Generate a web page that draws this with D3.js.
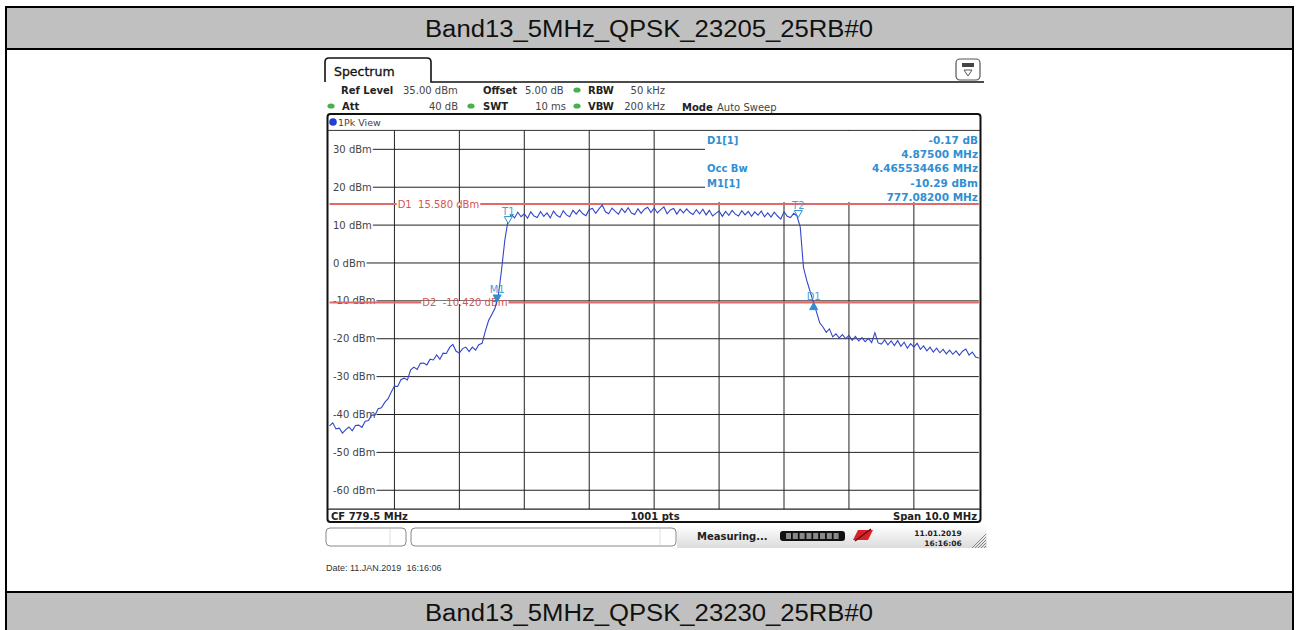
<!DOCTYPE html>
<html>
<head>
<meta charset="utf-8">
<script src="https://cdn.jsdelivr.net/npm/d3@7"></script>
<style>
body { margin: 0; background: #fff; }
text { font-family: "DejaVu Sans", Verdana, sans-serif; }
</style>
</head>
<body>
<svg id="chart" width="1299" height="630"></svg>
<script>

var titleTop = "Band13_5MHz_QPSK_23205_25RB#0",
    titleBottom = "Band13_5MHz_QPSK_23230_25RB#0";

var refLevel = 35,
    bottomLevel = -65;

var startFreq = 774.5,
    stopFreq = 784.5,
    stepFreq = 0.05;

var yTicks = [30, 20, 10, 0, -10, -20, -30, -40, -50, -60];
var xGrid = [775.5, 776.5, 777.5, 778.5, 779.5, 780.5, 781.5, 782.5, 783.5];

// trace, one value every 50 kHz
var traceLevels = [
  -43.0, -42.2, -43.8, -43.6, -44.9, -44.0, -43.3, -44.3, -42.9, -42.8,
  -43.4, -41.8, -41.6, -40.1, -40.2, -38.5, -38.2, -36.8, -35.9, -34.1,
  -32.5, -32.6, -30.8, -30.4, -30.9, -28.2, -27.5, -28.1, -26.5, -26.4,
  -26.9, -25.4, -25.6, -24.3, -25.4, -23.8, -23.9, -22.3, -21.5, -23.3,
  -23.8, -22.6, -22.2, -23.4, -22.2, -23.0, -21.6, -21.2, -18.0, -15.2,
  -13.6, -11.9, -8.6, -1.8, 6.0, 11.3,
  12.8, 11.9, 13.4, 12.2, 13.0, 11.8, 13.5, 12.4, 12.0, 13.6,
  12.3, 13.2, 11.9, 13.7, 12.6, 12.1, 13.8, 12.7, 12.2, 13.9,
  12.9, 14.0, 13.0, 12.5, 14.1, 14.4, 13.1, 14.3, 15.3, 13.5,
  13.0, 14.5, 13.6, 12.9, 14.4, 13.3, 14.6, 13.2, 12.8, 14.3,
  13.1, 14.2, 14.7, 13.3, 14.5, 13.2, 14.1, 14.8, 13.0, 14.0,
  14.4, 12.9, 14.2, 13.2, 14.3, 13.3, 12.8, 14.1, 13.0, 14.2,
  12.7, 13.9, 12.4, 13.1, 13.7, 12.3, 13.6, 12.6, 13.9, 12.9,
  12.4, 13.8, 12.7, 13.6, 12.3, 13.5, 12.6, 13.7, 12.2, 13.2,
  12.1, 13.4, 12.4, 11.6, 13.5, 12.3, 12.0, 13.1, 12.4,
  9.5, -1.2, -4.6, -7.4, -10.2,
  -12.9, -15.8, -16.9, -18.3, -17.4, -19.5, -18.7, -19.8, -18.9, -20.0,
  -19.1, -20.4, -19.4, -20.6, -19.7, -20.8, -19.9, -21.0, -18.4, -21.1,
  -21.4, -20.3, -21.6, -20.6, -21.8, -20.5, -22.0, -20.9, -22.5, -21.3,
  -22.2, -21.2, -22.8, -21.9, -23.2, -22.2, -23.5, -22.5, -23.7, -22.8,
  -24.0, -23.0, -24.1, -23.2, -24.4, -23.3, -22.7, -24.3, -23.5, -24.8,
  -25.1
];

var displayLines = [
  { name: "D1", level: 15.58, label: "D1  15.580 dBm", labelFreq: 775.55 },
  { name: "D2", level: -10.42, label: "D2  -10.420 dBm", labelFreq: 775.93 }
];

var markers = [
  { name: "T1", freq: 777.254, level: 10.4, shape: "openDown" },
  { name: "M1", freq: 777.082, level: -10.29, shape: "down" },
  { name: "T2", freq: 781.72, level: 12.0, shape: "openDown" },
  { name: "D1", freq: 781.957, level: -10.46, shape: "up" }
];

var infoLeft = ["D1[1]", "", "Occ Bw", "M1[1]", ""];
var infoRight = ["-0.17 dB", "4.87500 MHz", "4.465534466 MHz", "-10.29 dBm", "777.08200 MHz"];

var svg = d3.select("#chart");

var x = d3.scaleLinear().domain([startFreq, stopFreq]).range([329.5, 978.8]);
var y = d3.scaleLinear().domain([bottomLevel, refLevel]).range([509.2, 130.4]);

var plotL = x.range()[0], plotR = x.range()[1],
    plotT = y.range()[1], plotB = y.range()[0];

////////// page bands

svg.append("rect").attr("x", 6).attr("y", 7).attr("width", 1287).attr("height", 42)
    .attr("fill", "#c0c0c0").attr("stroke", "#000").attr("stroke-width", 2);
svg.append("rect").attr("x", 6).attr("y", 592).attr("width", 1287).attr("height", 45)
    .attr("fill", "#c0c0c0").attr("stroke", "#000").attr("stroke-width", 2);
svg.append("line").attr("x1", 6).attr("x2", 6).attr("y1", 7).attr("y2", 630)
    .attr("stroke", "#000").attr("stroke-width", 2);
svg.append("line").attr("x1", 1293).attr("x2", 1293).attr("y1", 7).attr("y2", 630)
    .attr("stroke", "#000").attr("stroke-width", 2);

svg.append("text").text(titleTop)
    .attr("x", 649).attr("y", 37).attr("text-anchor", "middle")
    .attr("textLength", 448).attr("lengthAdjust", "spacingAndGlyphs")
    .style("font-family", "'Liberation Sans', Arial, sans-serif").style("font-size", "23px").attr("fill", "#111");
svg.append("text").text(titleBottom)
    .attr("x", 649).attr("y", 621).attr("text-anchor", "middle")
    .attr("textLength", 448).attr("lengthAdjust", "spacingAndGlyphs")
    .style("font-family", "'Liberation Sans', Arial, sans-serif").style("font-size", "23px").attr("fill", "#111");

////////// instrument header

svg.append("path")
    .attr("d", "M325,82 L325,62 Q325,58 329,58 L427,58 Q431,58 431,62 L431,82 L984,82")
    .attr("fill", "none").attr("stroke", "#111").attr("stroke-width", 1.6);
svg.append("text").text("Spectrum").attr("x", 334).attr("y", 76)
    .style("font-size", "12.5px").attr("fill", "#111")
    .attr("stroke", "#111").attr("stroke-width", 0.3);

var icon = svg.append("g");
icon.append("rect").attr("x", 956).attr("y", 59).attr("width", 24).attr("height", 21).attr("rx", 4)
    .attr("fill", "#fff").attr("stroke", "#555").attr("stroke-width", 1.2);
icon.append("rect").attr("x", 962).attr("y", 63).attr("width", 12).attr("height", 4).attr("fill", "#444");
icon.append("path").attr("d", "M964,70 L972,70 L968,76 Z").attr("fill", "none").attr("stroke", "#555");

var hdr = [
  { t: "Ref Level", x: 341, y: 93.5, b: true }, { t: "35.00 dBm", x: 403, y: 93.5 },
  { t: "Offset", x: 483, y: 93.5, b: true }, { t: "5.00 dB", x: 525, y: 93.5 },
  { t: "RBW", x: 588, y: 93.5, b: true }, { t: "50 kHz", x: 665, y: 93.5, end: true },
  { t: "Att", x: 342, y: 109.5, b: true }, { t: "40 dB", x: 458, y: 109.5, end: true },
  { t: "SWT", x: 483, y: 109.5, b: true }, { t: "10 ms", x: 566, y: 109.5, end: true },
  { t: "VBW", x: 588, y: 109.5, b: true }, { t: "200 kHz", x: 665, y: 109.5, end: true },
  { t: "Mode", x: 682, y: 110.5, b: true }, { t: "Auto Sweep", x: 717, y: 110.5 }
];
svg.selectAll(".hdr").data(hdr).enter().append("text")
    .attr("class", "hdr")
    .text(function(d) { return d.t; })
    .attr("x", function(d) { return d.x; })
    .attr("y", function(d) { return d.y; })
    .attr("text-anchor", function(d) { return d.end ? "end" : "start"; })
    .style("font-size", "10px")
    .style("font-weight", function(d) { return d.b ? "bold" : "normal"; })
    .attr("fill", function(d) { return d.b ? "#222" : "#444"; });

var dots = [[577, 90], [331, 106], [471, 106], [577, 106]];
svg.selectAll(".gdot").data(dots).enter().append("ellipse")
    .attr("class", "gdot")
    .attr("cx", function(d) { return d[0]; }).attr("cy", function(d) { return d[1]; })
    .attr("rx", 3.6).attr("ry", 2.6).attr("fill", "#45b24f");

////////// display frame

svg.append("rect").attr("x", 327.5).attr("y", 114).attr("width", 653).attr("height", 408).attr("rx", 3)
    .attr("fill", "#fff").attr("stroke", "#111").attr("stroke-width", 2);
svg.append("line").attr("x1", 328).attr("x2", 980).attr("y1", 130.4).attr("y2", 130.4)
    .attr("stroke", "#333").attr("stroke-width", 1);
svg.append("circle").attr("cx", 333).attr("cy", 122).attr("r", 3.8).attr("fill", "#1f3fd6");
svg.append("text").text("1Pk View").attr("x", 338).attr("y", 126)
    .style("font-size", "9.5px").attr("fill", "#444");

// grid
svg.selectAll(".vgrid").data(xGrid).enter().append("line")
    .attr("class", "vgrid")
    .attr("x1", function(d) { return x(d); }).attr("x2", function(d) { return x(d); })
    .attr("y1", plotT).attr("y2", plotB)
    .attr("stroke", "#222").attr("stroke-width", 1);

var ylab = svg.selectAll(".ylab").data(yTicks).enter().append("text")
    .attr("class", "ylab")
    .text(function(d) { return d + " dBm"; })
    .attr("x", 333)
    .attr("y", function(d) { return y(d) + 3.6; })
    .style("font-size", "10px").attr("fill", "#444");

ylab.each(function(d) {
  var w = this.getComputedTextLength();
  svg.insert("line", ".ylab")
    .attr("x1", 333 + w + 1).attr("x2", plotR)
    .attr("y1", y(d)).attr("y2", y(d))
    .attr("stroke", "#222").attr("stroke-width", 1);
});

// marker table covers the grid
svg.append("rect").attr("x", 705).attr("y", 131).attr("width", 274).attr("height", 71).attr("fill", "#fff");

svg.selectAll(".infoL").data(infoLeft).enter().append("text")
    .attr("class", "infoL")
    .text(function(d) { return d; })
    .attr("x", 707)
    .attr("y", function(d, i) { return 144 + i * 14.2; })
    .style("font-size", "10px").style("font-weight", "bold").attr("fill", "#2f8fd3");
svg.selectAll(".infoR").data(infoRight).enter().append("text")
    .attr("class", "infoR")
    .text(function(d) { return d; })
    .attr("x", 978)
    .attr("y", function(d, i) { return 144 + i * 14.2; })
    .attr("text-anchor", "end")
    .style("font-size", "10.5px").style("font-weight", "bold").attr("fill", "#2f8fd3");

// display lines
displayLines.forEach(function(d) {
  svg.append("line").attr("x1", plotL).attr("x2", plotR)
    .attr("y1", y(d.level)).attr("y2", y(d.level))
    .attr("stroke", "#e06a6a").attr("stroke-width", 2);
  var g = svg.append("g");
  var bg = g.append("rect").attr("fill", "#fff");
  var t = g.append("text").text(d.label)
    .attr("x", x(d.labelFreq)).attr("y", y(d.level) + 3.6)
    .attr("xml:space", "preserve")
    .style("font-size", "10px").attr("fill", "#d9534f");
  var bb = t.node().getBBox();
  bg.attr("x", bb.x - 1).attr("y", y(d.level) - 1.5).attr("width", bb.width + 2).attr("height", 3);
});

// trace
var line = d3.line()
    .x(function(d, i) { return x(startFreq + i * stepFreq); })
    .y(function(d) { return y(d); });

svg.append("path").datum(traceLevels)
    .attr("d", line)
    .attr("fill", "none").attr("stroke", "#3146c9").attr("stroke-width", 1.1);

// markers
markers.forEach(function(m) {
  var mx = x(m.freq), my = y(m.level), p, ly;
  if (m.shape === "up") {
    p = "M" + mx + "," + my + " L" + (mx + 4) + "," + (my + 7) + " L" + (mx - 4) + "," + (my + 7) + " Z";
    ly = my - 3;
  } else {
    p = "M" + mx + "," + my + " L" + (mx + 4) + "," + (my - 7) + " L" + (mx - 4) + "," + (my - 7) + " Z";
    ly = my - 9;
  }
  svg.append("path").attr("d", p)
    .attr("fill", m.shape === "openDown" ? "#fff" : "#2f8fd3")
    .attr("stroke", "#2f8fd3").attr("stroke-width", 1);
  svg.append("text").text(m.name)
    .attr("x", mx).attr("y", ly).attr("text-anchor", "middle")
    .style("font-size", "10px").attr("fill", "#4aa0d8");
});

// bottom row
svg.append("line").attr("x1", 328).attr("x2", 980).attr("y1", plotB).attr("y2", plotB)
    .attr("stroke", "#222").attr("stroke-width", 1.2);
svg.append("text").text("CF 779.5 MHz").attr("x", 331).attr("y", 519.5)
    .style("font-size", "10px").style("font-weight", "bold").attr("fill", "#222");
svg.append("text").text("1001 pts").attr("x", 655).attr("y", 519.5).attr("text-anchor", "middle")
    .style("font-size", "10px").style("font-weight", "bold").attr("fill", "#222");
svg.append("text").text("Span 10.0 MHz").attr("x", 977).attr("y", 519.5).attr("text-anchor", "end")
    .style("font-size", "10px").style("font-weight", "bold").attr("fill", "#222");

////////// status bar

var grad = svg.append("defs").append("linearGradient").attr("id", "sb")
    .attr("x1", 0).attr("x2", 0).attr("y1", 0).attr("y2", 1);
grad.append("stop").attr("offset", "0%").attr("stop-color", "#ffffff");
grad.append("stop").attr("offset", "100%").attr("stop-color", "#dcdcdc");
svg.append("rect").attr("x", 677).attr("y", 525).attr("width", 310).attr("height", 23).attr("fill", "url(#sb)");

svg.append("rect").attr("x", 326).attr("y", 528).attr("width", 80).attr("height", 18).attr("rx", 4)
    .attr("fill", "#fff").attr("stroke", "#888");
svg.append("line").attr("x1", 390).attr("x2", 390).attr("y1", 529).attr("y2", 545).attr("stroke", "#ddd");
svg.append("rect").attr("x", 411).attr("y", 528).attr("width", 265).attr("height", 18).attr("rx", 4)
    .attr("fill", "#fff").attr("stroke", "#888");
svg.append("line").attr("x1", 660).attr("x2", 660).attr("y1", 529).attr("y2", 545).attr("stroke", "#ddd");

svg.append("text").text("Measuring...").attr("x", 697).attr("y", 540)
    .style("font-size", "10px").style("font-weight", "bold").attr("fill", "#222");

svg.append("rect").attr("x", 780).attr("y", 531).attr("width", 65).attr("height", 10).attr("rx", 3).attr("fill", "#111");
var segs = [0, 1, 2, 3, 4, 5, 6, 7];
svg.selectAll(".seg").data(segs).enter().append("rect")
    .attr("class", "seg")
    .attr("x", function(d) { return 786 + d * 6.8; }).attr("y", 533)
    .attr("width", 5).attr("height", 6).attr("fill", "#8a8a8a");

svg.append("path").attr("d", "M853,540 L858,530 L873,530 L868,540 Z").attr("fill", "#d8222a");
svg.append("line").attr("x1", 855).attr("x2", 871).attr("y1", 541).attr("y2", 529).attr("stroke", "#6a0a0a").attr("stroke-width", 1.5);

svg.append("text").text("11.01.2019").attr("x", 938).attr("y", 536).attr("text-anchor", "middle")
    .style("font-size", "7.5px").style("font-weight", "bold").attr("fill", "#222");
svg.append("text").text("16:16:06").attr("x", 943).attr("y", 546).attr("text-anchor", "middle")
    .style("font-size", "7.5px").style("font-weight", "bold").attr("fill", "#222");

var hatch = [0, 1, 2, 3, 4];
svg.selectAll(".hatch").data(hatch).enter().append("line")
    .attr("class", "hatch")
    .attr("x1", function(d) { return 972 + d * 3; }).attr("y1", 548)
    .attr("x2", 986).attr("y2", function(d) { return 534 + d * 3; })
    .attr("stroke", "#888").attr("stroke-width", 1);

svg.append("text").text("Date: 11.JAN.2019  16:16:06")
    .attr("x", 326).attr("y", 571).attr("xml:space", "preserve")
    .style("font-family", "'Liberation Sans', Arial, sans-serif").style("font-size", "9px").attr("fill", "#333");

</script>
</body>
</html>
